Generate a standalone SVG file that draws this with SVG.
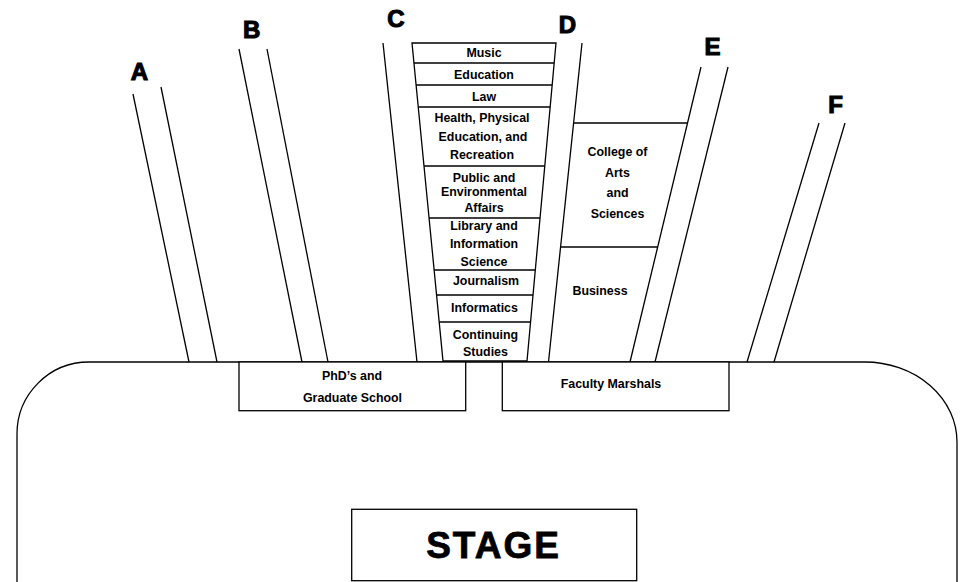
<svg xmlns="http://www.w3.org/2000/svg" width="974" height="582" viewBox="0 0 974 582">
<style>
.ln{stroke:#000;stroke-width:1.3;fill:none}
.bx{stroke:#000;stroke-width:1.3;fill:#fff}
.t{font-family:"Liberation Sans",Arial,sans-serif;font-weight:bold;font-size:12.4px;fill:#000;text-anchor:middle}
.lb{font-family:"Liberation Sans",Arial,sans-serif;font-weight:900;font-size:24px;fill:#000;stroke:#000;stroke-width:1.1;text-anchor:middle}
.st{font-family:"Liberation Sans",Arial,sans-serif;font-weight:bold;font-size:37px;letter-spacing:2px;fill:#000;stroke:#000;stroke-width:0.8;text-anchor:middle}
</style>
<rect width="974" height="582" fill="#fff"/>
<g id="hall">
<path class="ln" d="M17,582 V434 A72,72 0 0 1 89,362 H865 A92,80 0 0 1 957,442 V582"/>
</g>
<g id="connectors">
<line class="ln" x1="133" y1="94" x2="189" y2="362"/>
<line class="ln" x1="161" y1="87" x2="217" y2="362"/>
<line class="ln" x1="239" y1="49" x2="302" y2="362"/>
<line class="ln" x1="267" y1="49" x2="328" y2="362"/>
<line class="ln" x1="383" y1="43" x2="417" y2="362"/>
<line class="ln" x1="582" y1="43" x2="548.5" y2="362"/>
<line class="ln" x1="701" y1="67" x2="630" y2="362"/>
<line class="ln" x1="728" y1="67" x2="655" y2="362"/>
<line class="ln" x1="819" y1="123" x2="747" y2="362"/>
<line class="ln" x1="845" y1="123" x2="774" y2="362"/>
</g>
<g id="labels">
<text class="lb" x="139.5" y="80">A</text>
<text class="lb" x="251.7" y="37.7">B</text>
<text class="lb" x="396" y="26.7">C</text>
<text class="lb" x="567.5" y="33.3">D</text>
<text class="lb" x="712.5" y="55">E</text>
<text class="lb" x="835.5" y="112.7">F</text>
</g>
<g id="schools">
<polygon class="ln" points="412,43 556,43 527,361 443,361"/>
<line class="ln" x1="413.95" y1="63" x2="554.18" y2="63"/>
<line class="ln" x1="416.09" y1="85" x2="552.17" y2="85"/>
<line class="ln" x1="418.24" y1="107" x2="550.16" y2="107"/>
<line class="ln" x1="423.99" y1="166" x2="544.78" y2="166"/>
<line class="ln" x1="429.06" y1="218" x2="540.04" y2="218"/>
<line class="ln" x1="434.13" y1="270" x2="535.3" y2="270"/>
<line class="ln" x1="436.57" y1="295" x2="533.02" y2="295"/>
<line class="ln" x1="439.2" y1="322" x2="530.56" y2="322"/>
<text class="t" x="484" y="57">Music</text>
<text class="t" x="484" y="79">Education</text>
<text class="t" x="484" y="101">Law</text>
<text class="t" x="482"><tspan x="482" y="122.3">Health, Physical</tspan><tspan x="483" y="141">Education, and</tspan><tspan x="482" y="159.3">Recreation</tspan></text>
<text class="t" x="484"><tspan x="484" y="181.7">Public and</tspan><tspan x="484" y="196">Environmental</tspan><tspan x="484" y="212.3">Affairs</tspan></text>
<text class="t" x="484"><tspan x="484" y="230">Library and</tspan><tspan x="484" y="248.3">Information</tspan><tspan x="484" y="266">Science</tspan></text>
<text class="t" x="486" y="285">Journalism</text>
<text class="t" x="484.5" y="312.3">Informatics</text>
<text class="t" x="485.5"><tspan x="485.5" y="339.3">Continuing</tspan><tspan x="485.5" y="355.7">Studies</tspan></text>
</g>
<g id="arts-business">
<line class="ln" x1="573.6" y1="123" x2="687.5" y2="123"/>
<line class="ln" x1="560.5" y1="247" x2="657.5" y2="247"/>
<text class="t"><tspan x="617.5" y="156">College of</tspan><tspan x="617.5" y="176.7">Arts</tspan><tspan x="617.5" y="197.3">and</tspan><tspan x="617.5" y="217.7">Sciences</tspan></text>
<text class="t" x="600" y="295">Business</text>
</g>
<g id="phd">
<rect class="bx" x="239" y="362" width="226.7" height="48.7"/>
<text class="t"><tspan x="352" y="380">PhD’s and</tspan><tspan x="352.5" y="401.7">Graduate School</tspan></text>
</g>
<g id="marshals">
<rect class="bx" x="502.3" y="362" width="226.7" height="48.7"/>
<text class="t" x="611" y="387.7">Faculty Marshals</text>
</g>
<g id="stage">
<rect class="bx" x="351.7" y="509.3" width="285" height="71.4"/>
<text class="st" x="493.5" y="558">STAGE</text>
</g>
</svg>
